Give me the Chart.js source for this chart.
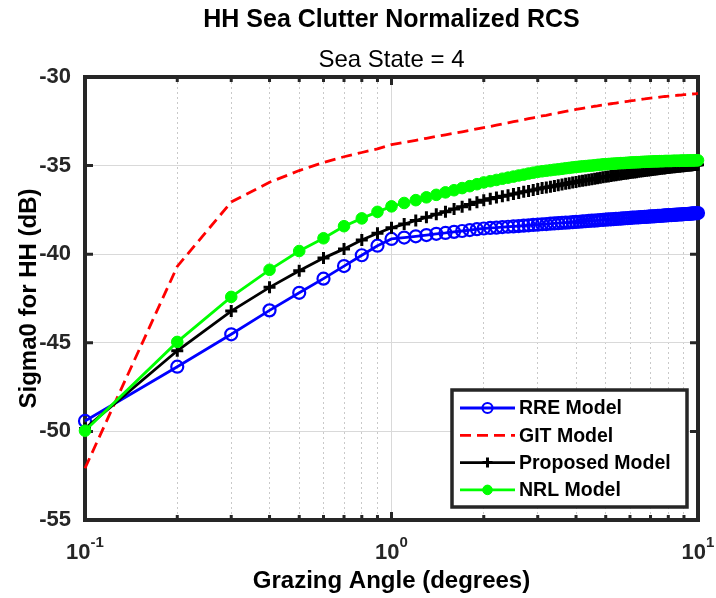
<!DOCTYPE html>
<html>
<head>
<meta charset="utf-8">
<title>HH Sea Clutter Normalized RCS</title>
<script src="https://cdn.jsdelivr.net/npm/chart.js@4.4.1/dist/chart.umd.min.js"></script>
<style>
  body { margin: 0; background: #fff; }
  #wrap { width: 716px; height: 598px; position: relative; }
</style>
</head>
<body>
<div id="wrap"><canvas id="seaChart"></canvas></div>
<script>
//Testi del grafico
var chartTitle = 'HH Sea Clutter Normalized RCS';
var chartSubtitle = 'Sea State = 4';
var xAxisTitle = 'Grazing Angle (degrees)';
var yAxisTitle = 'Sigma0 for HH (dB)';

//Angoli di incidenza (gradi)
var grazingAngle = [
  0.1, 0.2, 0.3, 0.4, 0.5, 0.6, 0.7, 0.8, 0.9, 1.0,
  1.1, 1.2, 1.3, 1.4, 1.5, 1.6, 1.7, 1.8, 1.9, 2.0,
  2.1, 2.2, 2.3, 2.4, 2.5, 2.6, 2.7, 2.8, 2.9, 3.0,
  3.1, 3.2, 3.3, 3.4, 3.5, 3.6, 3.7, 3.8, 3.9, 4.0,
  4.1, 4.2, 4.3, 4.4, 4.5, 4.6, 4.7, 4.8, 4.9, 5.0,
  5.1, 5.2, 5.3, 5.4, 5.5, 5.6, 5.7, 5.8, 5.9, 6.0,
  6.1, 6.2, 6.3, 6.4, 6.5, 6.6, 6.7, 6.8, 6.9, 7.0,
  7.1, 7.2, 7.3, 7.4, 7.5, 7.6, 7.7, 7.8, 7.9, 8.0,
  8.1, 8.2, 8.3, 8.4, 8.5, 8.6, 8.7, 8.8, 8.9, 9.0,
  9.1, 9.2, 9.3, 9.4, 9.5, 9.6, 9.7, 9.8, 9.9, 10.0
];

var rreModel = [
  -49.41, -46.35, -44.52, -43.17, -42.18, -41.38, -40.67, -40.06, -39.52, -39.14,
  -39.06, -38.99, -38.92, -38.85, -38.80, -38.74, -38.69, -38.64, -38.59, -38.55,
  -38.52, -38.50, -38.47, -38.45, -38.43, -38.41, -38.39, -38.37, -38.35, -38.33,
  -38.31, -38.30, -38.28, -38.26, -38.25, -38.23, -38.22, -38.21, -38.19, -38.18,
  -38.17, -38.15, -38.14, -38.12, -38.11, -38.10, -38.09, -38.07, -38.06, -38.05,
  -38.04, -38.03, -38.02, -38.01, -38.00, -37.99, -37.98, -37.97, -37.96, -37.95,
  -37.94, -37.93, -37.93, -37.92, -37.91, -37.90, -37.89, -37.89, -37.88, -37.87,
  -37.86, -37.86, -37.85, -37.84, -37.84, -37.83, -37.82, -37.81, -37.81, -37.80,
  -37.79, -37.79, -37.78, -37.78, -37.77, -37.76, -37.76, -37.75, -37.75, -37.74,
  -37.73, -37.73, -37.72, -37.72, -37.71, -37.70, -37.70, -37.69, -37.69, -37.68
];

var gitModel = [
  -52.08, -40.69, -37.05, -35.94, -35.28, -34.82, -34.50, -34.26, -34.06, -33.82,
  -33.69, -33.57, -33.46, -33.35, -33.26, -33.17, -33.09, -33.01, -32.93, -32.86,
  -32.79, -32.72, -32.65, -32.59, -32.52, -32.47, -32.41, -32.35, -32.30, -32.25,
  -32.20, -32.16, -32.11, -32.07, -32.03, -31.98, -31.94, -31.90, -31.87, -31.83,
  -31.80, -31.77, -31.74, -31.71, -31.68, -31.65, -31.63, -31.60, -31.58, -31.55,
  -31.53, -31.51, -31.49, -31.47, -31.45, -31.43, -31.41, -31.39, -31.37, -31.35,
  -31.33, -31.32, -31.30, -31.28, -31.27, -31.25, -31.24, -31.22, -31.20, -31.19,
  -31.18, -31.17, -31.16, -31.15, -31.13, -31.12, -31.11, -31.10, -31.09, -31.08,
  -31.07, -31.06, -31.06, -31.05, -31.04, -31.03, -31.02, -31.02, -31.01, -31.00,
  -30.99, -30.99, -30.98, -30.97, -30.97, -30.96, -30.95, -30.95, -30.94, -30.93
];

var proposedModel = [
  -49.84, -45.45, -43.21, -41.87, -40.93, -40.22, -39.70, -39.20, -38.82, -38.51,
  -38.30, -38.10, -37.92, -37.75, -37.60, -37.45, -37.32, -37.19, -37.07, -36.95,
  -36.87, -36.80, -36.73, -36.67, -36.60, -36.54, -36.48, -36.43, -36.37, -36.32,
  -36.27, -36.23, -36.19, -36.15, -36.11, -36.07, -36.03, -35.99, -35.96, -35.92,
  -35.89, -35.86, -35.83, -35.80, -35.77, -35.74, -35.71, -35.68, -35.66, -35.63,
  -35.61, -35.58, -35.56, -35.54, -35.52, -35.50, -35.48, -35.46, -35.44, -35.42,
  -35.40, -35.39, -35.37, -35.35, -35.34, -35.32, -35.31, -35.29, -35.27, -35.26,
  -35.25, -35.23, -35.22, -35.21, -35.19, -35.18, -35.17, -35.16, -35.14, -35.13,
  -35.12, -35.11, -35.10, -35.09, -35.08, -35.07, -35.06, -35.05, -35.04, -35.03,
  -35.02, -35.01, -35.01, -35.00, -34.99, -34.98, -34.97, -34.97, -34.96, -34.95
];

var nrlModel = [
  -49.96, -44.95, -42.41, -40.88, -39.82, -39.10, -38.42, -37.98, -37.61, -37.30,
  -37.11, -36.95, -36.79, -36.65, -36.51, -36.39, -36.27, -36.16, -36.05, -35.95,
  -35.88, -35.81, -35.74, -35.68, -35.62, -35.56, -35.51, -35.45, -35.40, -35.35,
  -35.32, -35.29, -35.26, -35.23, -35.21, -35.18, -35.15, -35.13, -35.10, -35.08,
  -35.06, -35.04, -35.03, -35.01, -35.00, -34.98, -34.96, -34.95, -34.93, -34.92,
  -34.91, -34.90, -34.89, -34.88, -34.87, -34.86, -34.86, -34.85, -34.84, -34.83,
  -34.82, -34.82, -34.81, -34.81, -34.80, -34.79, -34.79, -34.78, -34.78, -34.77,
  -34.77, -34.76, -34.76, -34.76, -34.75, -34.75, -34.75, -34.74, -34.74, -34.74,
  -34.74, -34.74, -34.73, -34.73, -34.73, -34.73, -34.73, -34.72, -34.72, -34.72,
  -34.72, -34.72, -34.71, -34.71, -34.71, -34.71, -34.71, -34.70, -34.70, -34.70
];

//Tacche degli assi
var xTickValues = [0.1, 0.2, 0.3, 0.4, 0.5, 0.6, 0.7, 0.8, 0.9, 1, 2, 3, 4, 5, 6, 7, 8, 9, 10];
var xMajorValues = [0.1, 1, 10];
var xMajorExponents = ['-1', '0', '1'];
var yTickValues = [-55, -50, -45, -40, -35, -30];

var fontFamily = "'Liberation Sans', Arial, Helvetica, sans-serif";
var axisColor = '#262626';

//Funzione per accoppiare angoli e valori
function toPoints (values) {
  var points = [];
  for (var i = 0; i < values.length; i++) {
    points.push({x: grazingAngle[i], y: values[i]});
  }
  return points;
}

function isMajorX (v) {
  return xMajorValues.indexOf(v) !== -1;
}

//Cornice e tacche interne stile MATLAB
var framePlugin = {
  id: 'matlabFrame',
  beforeDatasetsDraw: function (chart) {
    var ctx = chart.ctx;
    var a = chart.chartArea;
    var xs = chart.scales.x;
    var ys = chart.scales.y;
    ctx.save();
    ctx.strokeStyle = axisColor;
    ctx.lineWidth = 3;
    ctx.beginPath();
    for (var i = 0; i < xTickValues.length; i++) {
      var px = xs.getPixelForValue(xTickValues[i]);
      var len = isMajorX(xTickValues[i]) ? 8 : 5;
      ctx.moveTo(px, a.bottom);
      ctx.lineTo(px, a.bottom - len);
      ctx.moveTo(px, a.top);
      ctx.lineTo(px, a.top + len);
    }
    for (var j = 0; j < yTickValues.length; j++) {
      var py = ys.getPixelForValue(yTickValues[j]);
      ctx.moveTo(a.left, py);
      ctx.lineTo(a.left + 8, py);
      ctx.moveTo(a.right, py);
      ctx.lineTo(a.right - 8, py);
    }
    ctx.stroke();
    ctx.lineWidth = 4;
    ctx.strokeRect(a.left, a.top, a.right - a.left, a.bottom - a.top);
    ctx.restore();
  }
};

//Legenda dentro l'area del grafico
var legendPlugin = {
  id: 'matlabLegend',
  afterDatasetsDraw: function (chart) {
    var ctx = chart.ctx;
    var box = {left: 452, top: 390, right: 687, bottom: 507};
    ctx.save();
    ctx.fillStyle = '#fff';
    ctx.fillRect(box.left, box.top, box.right - box.left, box.bottom - box.top);
    ctx.strokeStyle = axisColor;
    ctx.lineWidth = 3.5;
    ctx.strokeRect(box.left, box.top, box.right - box.left, box.bottom - box.top);
    var sets = chart.data.datasets;
    for (var i = 0; i < sets.length; i++) {
      var ds = sets[i];
      var y = 408 + i * 27.3;
      ctx.strokeStyle = ds.borderColor;
      ctx.lineWidth = ds.borderWidth;
      ctx.setLineDash(ds.borderDash || []);
      ctx.beginPath();
      ctx.moveTo(460, y);
      ctx.lineTo(515, y);
      ctx.stroke();
      ctx.setLineDash([]);
      if (ds.pointRadius > 0) {
        var r = ds.pointRadius - 1;
        ctx.lineWidth = ds.pointBorderWidth;
        ctx.beginPath();
        if (ds.pointStyle === 'cross') {
          ctx.moveTo(487.5 - r, y);
          ctx.lineTo(487.5 + r, y);
          ctx.moveTo(487.5, y - r);
          ctx.lineTo(487.5, y + r);
          ctx.stroke();
        } else {
          ctx.arc(487.5, y, r, 0, Math.PI * 2);
          ctx.fillStyle = ds.pointBackgroundColor;
          ctx.fill();
          ctx.stroke();
        }
      }
      ctx.fillStyle = '#000';
      ctx.font = 'bold 19.5px ' + fontFamily;
      ctx.textAlign = 'left';
      ctx.textBaseline = 'middle';
      ctx.fillText(ds.label, 519, y + 1);
    }
    ctx.restore();
  }
};

//Titoli, etichette degli assi e potenze di 10
var textPlugin = {
  id: 'matlabText',
  afterDraw: function (chart) {
    var ctx = chart.ctx;
    var a = chart.chartArea;
    var xs = chart.scales.x;
    var cx = (a.left + a.right) / 2;
    ctx.save();
    ctx.fillStyle = axisColor;
    ctx.textBaseline = 'alphabetic';
    ctx.textAlign = 'left';
    for (var i = 0; i < xMajorValues.length; i++) {
      var px = xs.getPixelForValue(xMajorValues[i]);
      ctx.font = 'bold 22px ' + fontFamily;
      var wBase = ctx.measureText('10').width;
      ctx.font = 'bold 15px ' + fontFamily;
      var wExp = ctx.measureText(xMajorExponents[i]).width;
      var start = px - (wBase + wExp) / 2;
      ctx.font = 'bold 22px ' + fontFamily;
      ctx.fillText('10', start, 559);
      ctx.font = 'bold 15px ' + fontFamily;
      ctx.fillText(xMajorExponents[i], start + wBase, 547);
    }
    ctx.fillStyle = '#000';
    ctx.textAlign = 'center';
    ctx.textBaseline = 'middle';
    ctx.font = 'bold 25px ' + fontFamily;
    ctx.fillText(chartTitle, cx, 20);
    ctx.font = '24px ' + fontFamily;
    ctx.fillText(chartSubtitle, cx, 60);
    ctx.font = 'bold 24px ' + fontFamily;
    ctx.fillText(xAxisTitle, cx, 581);
    ctx.translate(29, (a.top + a.bottom) / 2);
    ctx.rotate(-Math.PI / 2);
    ctx.fillText(yAxisTitle, 0, 0);
    ctx.restore();
  }
};

function drawChart () {
  var ctx = document.getElementById('seaChart').getContext('2d');
  var chart = new Chart(ctx, {
    type: 'line',
    data: {
      datasets: [{
        label: 'RRE Model',
        data: toPoints(rreModel),
        borderColor: 'rgb(0, 0, 255)',
        borderWidth: 2.8,
        pointStyle: 'circle',
        pointRadius: 6,
        pointBorderWidth: 2.2,
        pointBackgroundColor: 'rgba(0, 0, 0, 0)',
        pointBorderColor: 'rgb(0, 0, 255)',
        order: 3
      }, {
        label: 'GIT Model',
        data: toPoints(gitModel),
        borderColor: 'rgb(255, 0, 0)',
        borderWidth: 2.8,
        borderDash: [11, 6],
        pointRadius: 0,
        order: 2
      }, {
        label: 'Proposed Model',
        data: toPoints(proposedModel),
        borderColor: 'rgb(0, 0, 0)',
        borderWidth: 2.8,
        pointStyle: 'cross',
        pointRadius: 6,
        pointBorderWidth: 3,
        pointBorderColor: 'rgb(0, 0, 0)',
        order: 1
      }, {
        label: 'NRL Model',
        data: toPoints(nrlModel),
        borderColor: 'rgb(0, 255, 0)',
        borderWidth: 2.8,
        pointStyle: 'circle',
        pointRadius: 5.8,
        pointBorderWidth: 1,
        pointBackgroundColor: 'rgb(0, 255, 0)',
        pointBorderColor: 'rgb(0, 255, 0)',
        order: 0
      }]
    },
    options: {
      responsive: true,
      maintainAspectRatio: false,
      animation: false,
      events: [],
      clip: false,
      layout: {padding: {top: 77, right: 18, left: 0, bottom: 0}},
      elements: {line: {tension: 0}},
      plugins: {
        legend: {display: false},
        tooltip: {enabled: false},
        title: {display: false}
      },
      scales: {
        x: {
          type: 'logarithmic',
          min: 0.1,
          max: 10,
          afterBuildTicks: function (scale) {
            scale.ticks = xTickValues.map(function (v) { return {value: v}; });
          },
          afterFit: function (scale) {
            scale.height = 78;
            scale.paddingLeft = 0;
            scale.paddingRight = 0;
          },
          grid: {
            drawTicks: false,
            lineWidth: 1,
            color: function (c) {
              return isMajorX(c.tick.value) ? '#d9d9d9' : 'rgba(38, 38, 38, 0.25)';
            }
          },
          border: {
            display: false,
            dash: function (c) {
              return (c.tick && !isMajorX(c.tick.value)) ? [2, 3] : [];
            }
          },
          ticks: {display: false}
        },
        y: {
          min: -55,
          max: -30,
          afterBuildTicks: function (scale) {
            scale.ticks = yTickValues.map(function (v) { return {value: v}; });
          },
          afterFit: function (scale) {
            scale.width = 85;
            scale.paddingTop = 0;
            scale.paddingBottom = 0;
          },
          grid: {drawTicks: false, lineWidth: 1, color: '#d9d9d9'},
          border: {display: false},
          ticks: {
            padding: 14,
            color: axisColor,
            font: {family: fontFamily, size: 22, weight: 'bold'}
          }
        }
      }
    },
    plugins: [framePlugin, legendPlugin, textPlugin]
  });
  return chart;
}

drawChart();
</script>
</body>
</html>
